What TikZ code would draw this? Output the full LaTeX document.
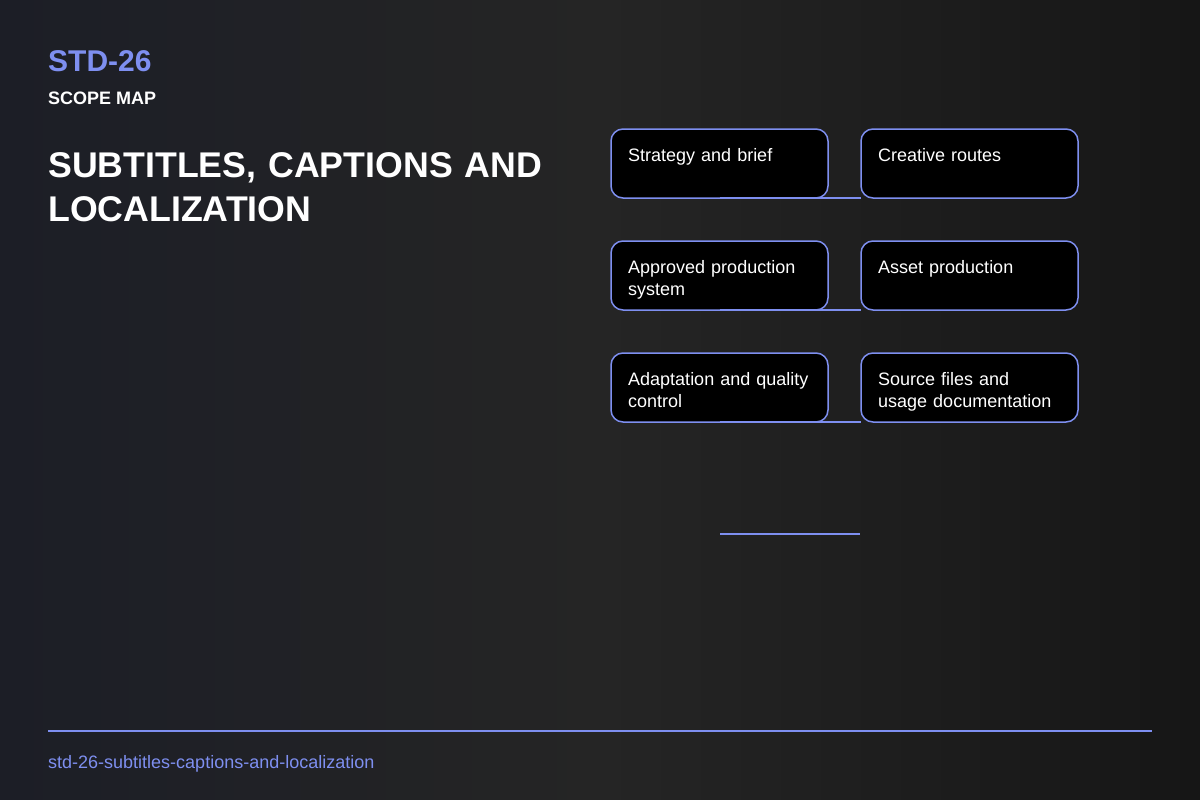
\documentclass[tikz,border=0pt]{standalone}
\usepackage{fontspec}
\setmainfont{Liberation Sans}
\usepackage{tikz}
\usetikzlibrary{positioning,calc}

\definecolor{accent}{RGB}{126,143,240}
\definecolor{bgleft}{RGB}{28,30,38}
\definecolor{bgmid}{RGB}{37,37,37}
\definecolor{bgright}{RGB}{22,22,22}

\tikzset{
  card/.style={draw=accent, line width=1.5bp, fill=black, rounded corners=12bp,
    minimum width=217bp, minimum height=69bp, inner sep=0pt, outer sep=0pt},
  cardtxt/.style={anchor=base west, text=white, text width=200bp, align=left,
    inner sep=0pt, font=\fontsize{18bp}{22.5bp}\selectfont},
  link/.style={draw=accent, line width=2bp},
  rule/.style={draw=accent, line width=2bp},
}

\begin{document}
\begin{tikzpicture}[x=1bp, y=-1bp]
\useasboundingbox (0,0) rectangle (1200,800);
\shade[left color=bgleft, right color=bgright, middle color=bgmid] (0,0) rectangle (1200,800);

% header
\node[anchor=base west, inner sep=0pt, text=accent, font=\bfseries\fontsize{30bp}{36bp}\selectfont] (code) at (48,72) {STD-26};
\node[anchor=base west, inner sep=0pt, text=white, font=\bfseries\fontsize{18bp}{21bp}\selectfont] (kind) at (48,105) {SCOPE MAP};
\node[anchor=base west, inner sep=0pt, text=white, text width=540bp, align=left, font=\bfseries\fontsize{35.7bp}{44bp}\selectfont] (title) at (48,177) {SUBTITLES, CAPTIONS AND\\LOCALIZATION};

% scope cards
\node[card, anchor=north west] (s1) at (611,129) {};
\node[card, right=33bp of s1] (s2) {};
\node[card, below=43bp of s1] (s3) {};
\node[card, right=33bp of s3] (s4) {};
\node[card, below=43bp of s3] (s5) {};
\node[card, right=33bp of s5] (s6) {};

\node[cardtxt] (t1) at ($(s1.north west)+(17,32)$) {Strategy and brief};
\node[cardtxt] (t2) at ($(s2.north west)+(17,32)$) {Creative routes};
\node[cardtxt] (t3) at ($(s3.north west)+(17,32)$) {Approved production\\system};
\node[cardtxt] (t4) at ($(s4.north west)+(17,32)$) {Asset production};
\node[cardtxt] (t5) at ($(s5.north west)+(17,32)$) {Adaptation and quality\\control};
\node[cardtxt] (t6) at ($(s6.north west)+(17,32)$) {Source files and\\usage documentation};

\draw[link] (s1.south) -- (s1.south -| s2.west);
\draw[link] (s3.south) -- (s3.south -| s4.west);
\draw[link] (s5.south) -- (s5.south -| s6.west);
\coordinate (e1) at (720,534);
\coordinate (e2) at (860,534);
\draw[link] (e1) -- (e2);

% footer
\coordinate (r0) at (48,731);
\coordinate (r1) at (1152,731);
\draw[rule] (r0) -- (r1);
\node[anchor=base west, inner sep=0pt, text=accent, font=\fontsize{18bp}{22bp}\selectfont] (slug) at (48,768) {std-26-subtitles-captions-and-localization};
\end{tikzpicture}
\end{document}
